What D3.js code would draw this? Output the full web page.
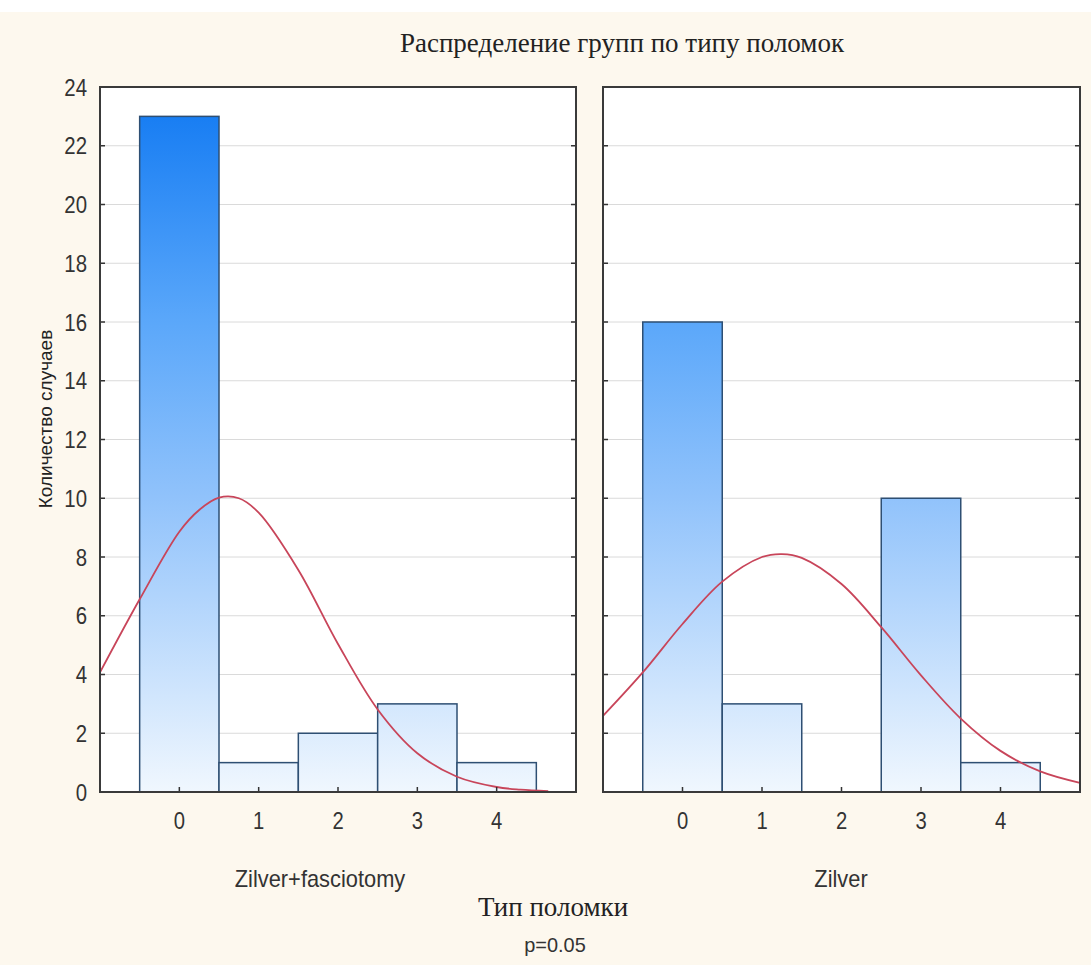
<!DOCTYPE html>
<html>
<head>
<meta charset="utf-8">
<script src="https://cdn.jsdelivr.net/npm/d3@7"></script>
<style>
  html, body { margin: 0; padding: 0; background: #ffffff; }
  svg { display: block; }
</style>
</head>
<body>
<svg id="chart" width="1091" height="965"></svg>
<script>
// ---- Data ----
const categories = [0, 1, 2, 3, 4];
const panelNames = ["Zilver+fasciotomy", "Zilver"];
const countsFasciotomy = [23, 1, 2, 3, 1];
const countsZilver = [16, 3, 0, 10, 1];
// fitted normal curve (x position, count)
const curveFasciotomyX = [-1, -0.5, 0, 0.25, 0.5, 0.75, 1, 1.5, 2, 2.5, 3, 3.5, 4, 4.3, 4.65];
const curveFasciotomyY = [4.07, 6.56, 8.86, 9.6, 10.02, 10.0, 9.51, 7.56, 5.04, 2.81, 1.32, 0.52, 0.17, 0.08, 0.03];
const curveZilverX = [-1, -0.5, 0, 0.5, 1, 1.25, 1.5, 2, 2.5, 3, 3.5, 4, 4.5, 5];
const curveZilverY = [2.59, 4.07, 5.72, 7.16, 8.0, 8.1, 7.97, 7.08, 5.61, 3.97, 2.5, 1.4, 0.7, 0.31];
const yTicks = [0, 2, 4, 6, 8, 10, 12, 14, 16, 18, 20, 22, 24];
const titleText = "Распределение групп по типу поломок";
const xAxisTitle = "Тип поломки";
const yAxisTitle = "Количество случаев";
const noteText = "p=0.05";

// ---- Layout ----
const svg = d3.select("#chart");
const W = 1091, H = 965;
svg.append("rect").attr("x", 0).attr("y", 12).attr("width", W).attr("height", H - 12).attr("fill", "#fdf8ee");

const plotTop = 87, plotBottom = 792;
const panels = [
  { x0: 100, x1: 576, counts: countsFasciotomy, cx: curveFasciotomyX, cy: curveFasciotomyY, name: panelNames[0], lx: 320 },
  { x0: 603, x1: 1080, counts: countsZilver, cx: curveZilverX, cy: curveZilverY, name: panelNames[1], lx: 841 }
];

const y = d3.scaleLinear().domain([0, 24]).range([plotBottom, plotTop]);

const defs = svg.append("defs");
const grad = defs.append("linearGradient")
  .attr("id", "barGrad")
  .attr("gradientUnits", "userSpaceOnUse")
  .attr("x1", 0).attr("x2", 0)
  .attr("y1", y(0)).attr("y2", y(24));
grad.append("stop").attr("offset", "0%").attr("stop-color", "#f0f7fe");
grad.append("stop").attr("offset", "42%").attr("stop-color", "#90c2fb");
grad.append("stop").attr("offset", "67%").attr("stop-color", "#5aa7fa");
grad.append("stop").attr("offset", "100%").attr("stop-color", "#0f78f2");

const sans = "'Liberation Sans', Arial, sans-serif";
const serif = "'Liberation Serif', 'Times New Roman', serif";

function scaledText(sel, x, yy, txt, size, sx, anchor, family, color) {
  return sel.append("text")
    .attr("transform", `translate(${x},${yy}) scale(${sx},1)`)
    .attr("text-anchor", anchor)
    .attr("font-family", family).attr("font-size", size).attr("fill", color)
    .text(txt);
}

panels.forEach((p) => {
  const x = d3.scaleLinear().domain([-1, 5]).range([p.x0, p.x1]);
  const g = svg.append("g");
  g.append("rect").attr("x", p.x0).attr("y", plotTop).attr("width", p.x1 - p.x0).attr("height", plotBottom - plotTop).attr("fill", "#ffffff");
  g.selectAll(".grid").data(yTicks.filter(t => t > 0 && t < 24)).join("line")
    .attr("x1", p.x0).attr("x2", p.x1)
    .attr("y1", d => y(d)).attr("y2", d => y(d))
    .attr("stroke", "#dadada").attr("stroke-width", 1);
  g.selectAll(".bar").data(categories).join("rect")
    .attr("x", d => x(d - 0.5))
    .attr("width", d => x(d + 0.5) - x(d - 0.5))
    .attr("y", (d, i) => y(p.counts[i]))
    .attr("height", (d, i) => y(0) - y(p.counts[i]))
    .attr("fill", "url(#barGrad)")
    .attr("stroke", "#2e4f73").attr("stroke-width", 1.5);
  const pts = p.cx.map((v, i) => [v, p.cy[i]]);
  g.append("path").datum(pts)
    .attr("d", d3.line().x(d => x(d[0])).y(d => y(d[1])).curve(d3.curveCatmullRom))
    .attr("fill", "none").attr("stroke", "#c8455a").attr("stroke-width", 1.8);
  g.selectAll(".tl").data(yTicks).join("line")
    .attr("x1", p.x0).attr("x2", p.x0 + 5)
    .attr("y1", d => y(d)).attr("y2", d => y(d))
    .attr("stroke", "#333").attr("stroke-width", 1.5);
  g.selectAll(".tr").data(yTicks).join("line")
    .attr("x1", p.x1 - 5).attr("x2", p.x1)
    .attr("y1", d => y(d)).attr("y2", d => y(d))
    .attr("stroke", "#333").attr("stroke-width", 1.5);
  g.selectAll(".tb").data(categories).join("line")
    .attr("x1", d => x(d)).attr("x2", d => x(d))
    .attr("y1", plotBottom).attr("y2", plotBottom - 5)
    .attr("stroke", "#333").attr("stroke-width", 1.5);
  g.append("rect").attr("x", p.x0).attr("y", plotTop).attr("width", p.x1 - p.x0).attr("height", plotBottom - plotTop)
    .attr("fill", "none").attr("stroke", "#3a3a3a").attr("stroke-width", 2);
  categories.forEach(c => scaledText(g, x(c), 829, c, 23, 0.88, "middle", sans, "#333"));
  scaledText(g, p.lx, 887, p.name, 23, 0.95, "middle", sans, "#333");
});

yTicks.forEach(t => scaledText(svg, 87, y(t) + 8.5, t, 24, 0.85, "end", sans, "#333"));

svg.append("text")
  .attr("transform", "translate(52,419) rotate(-90)")
  .attr("text-anchor", "middle")
  .attr("font-family", sans).attr("font-size", 19).attr("fill", "#222")
  .text(yAxisTitle);

svg.append("text").attr("x", 622).attr("y", 52)
  .attr("text-anchor", "middle")
  .attr("font-family", serif).attr("font-size", 27).attr("fill", "#222")
  .text(titleText);

svg.append("text").attr("x", 553).attr("y", 916)
  .attr("text-anchor", "middle")
  .attr("font-family", serif).attr("font-size", 27).attr("fill", "#222")
  .text(xAxisTitle);

scaledText(svg, 555, 952, noteText, 21, 0.95, "middle", sans, "#333");
</script>
</body>
</html>
